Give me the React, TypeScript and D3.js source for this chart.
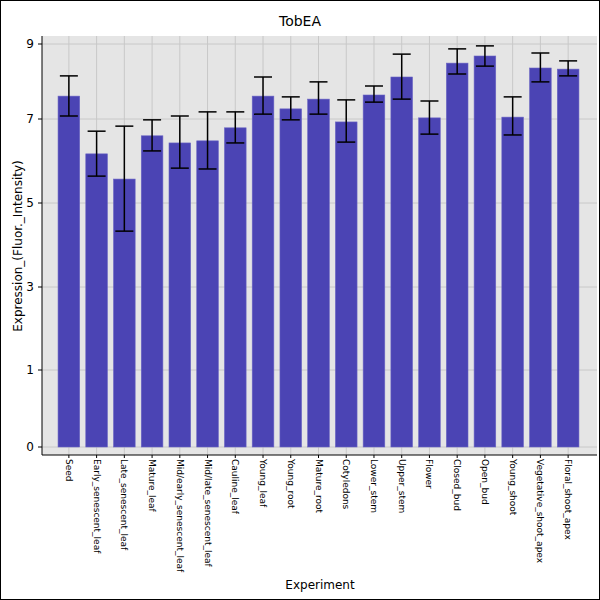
import React from "react";
import * as d3 from "d3";

const categories = ["Seed","Early_senescent_leaf","Late_senescent_leaf","Mature_leaf","Mid/early_senescent_leaf","Mid/late_senescent_leaf","Cauline_leaf","Young_leaf","Young_root","Mature_root","Cotyledons","Lower_stem","Upper_stem","Flower","Closed_bud","Open_bud","Young_shoot","Vegetative_shoot_apex","Floral_shoot_apex"];
const values = [7.61,6.17,5.57,6.6,6.43,6.48,6.79,7.61,7.27,7.53,6.93,7.64,8.12,7.03,8.49,8.68,7.05,8.36,8.33];
const errHigh = [8.15,6.71,6.83,6.98,7.08,7.19,7.19,8.12,7.59,7.99,7.51,7.88,8.73,7.48,8.87,8.95,7.59,8.76,8.55];
const errLow = [7.08,5.64,4.33,6.24,5.83,5.81,6.43,7.13,6.98,7.13,6.45,7.45,7.53,6.64,8.2,8.41,6.62,7.99,8.15];
const yTicks = [0,1,3,5,7,9];

export default function App() {
  const W = 600, H = 600;
  const left = 42, right = 597, top = 36, bottom = 455;
  const y = d3.scaleLinear().domain(yTicks).range([447,370,287,203,119,44]);
  const x = d3.scaleBand().domain(categories).range([55,582]).paddingInner(0.22).paddingOuter(0.11);
  const bw = x.bandwidth();
  const f = "DejaVu Sans, sans-serif";
  return (
    <svg width={W} height={H} style={{position:"absolute",left:0,top:0}}>
      <rect x={0.5} y={0.5} width={W-1} height={H-1} fill="#fff" stroke="#000" />
      <text x={300} y={26} textAnchor="middle" fontFamily={f} fontSize={14}>TobEA</text>
      <rect x={left} y={top} width={right-left} height={bottom-top} fill="#e5e5e5" />
      {yTicks.map(t => <line key={t} x1={left} x2={right} y1={y(t)} y2={y(t)} stroke="#c8c8c8" />)}
      {categories.map(c => { const cx = x(c)! + bw/2; return <line key={c} x1={cx} x2={cx} y1={top} y2={bottom} stroke="#c8c8c8" />; })}
      {categories.map((c,i) => (
        <rect key={c} x={x(c)} y={y(values[i])} width={bw} height={y(0)-y(values[i])} fill="#4b44b4" stroke="#6a64c4" strokeWidth={0.6} />
      ))}
      {categories.map((c,i) => { const cx = x(c)! + bw/2; return (
        <g key={c} stroke="#000" strokeWidth={1.5}>
          <line x1={cx} x2={cx} y1={y(errHigh[i])} y2={y(errLow[i])} />
          <line x1={cx-9} x2={cx+9} y1={y(errHigh[i])} y2={y(errHigh[i])} />
          <line x1={cx-9} x2={cx+9} y1={y(errLow[i])} y2={y(errLow[i])} />
        </g>); })}
      <line x1={left} x2={left} y1={top} y2={bottom} stroke="#000" />
      <line x1={left} x2={right} y1={bottom} y2={bottom} stroke="#000" />
      {yTicks.map(t => (
        <g key={t}>
          <line x1={left-4} x2={left} y1={y(t)} y2={y(t)} stroke="#000" />
          <text x={left-8} y={y(t)+4} textAnchor="end" fontFamily={f} fontSize={12}>{t}</text>
        </g>))}
      {categories.map(c => { const cx = x(c)! + bw/2; return (
        <g key={c}>
          <line x1={cx} x2={cx} y1={bottom} y2={bottom+3} stroke="#000" />
          <text transform={`translate(${cx-3},${bottom+4}) rotate(90)`} fontFamily={f} fontSize={9}>{c}</text>
        </g>); })}
      <text x={320} y={589} textAnchor="middle" fontFamily={f} fontSize={12}>Experiment</text>
      <text transform={`translate(22,${246}) rotate(-90)`} textAnchor="middle" fontFamily={f} fontSize={12}>Expression_(Fluor._Intensity)</text>
    </svg>
  );
}
